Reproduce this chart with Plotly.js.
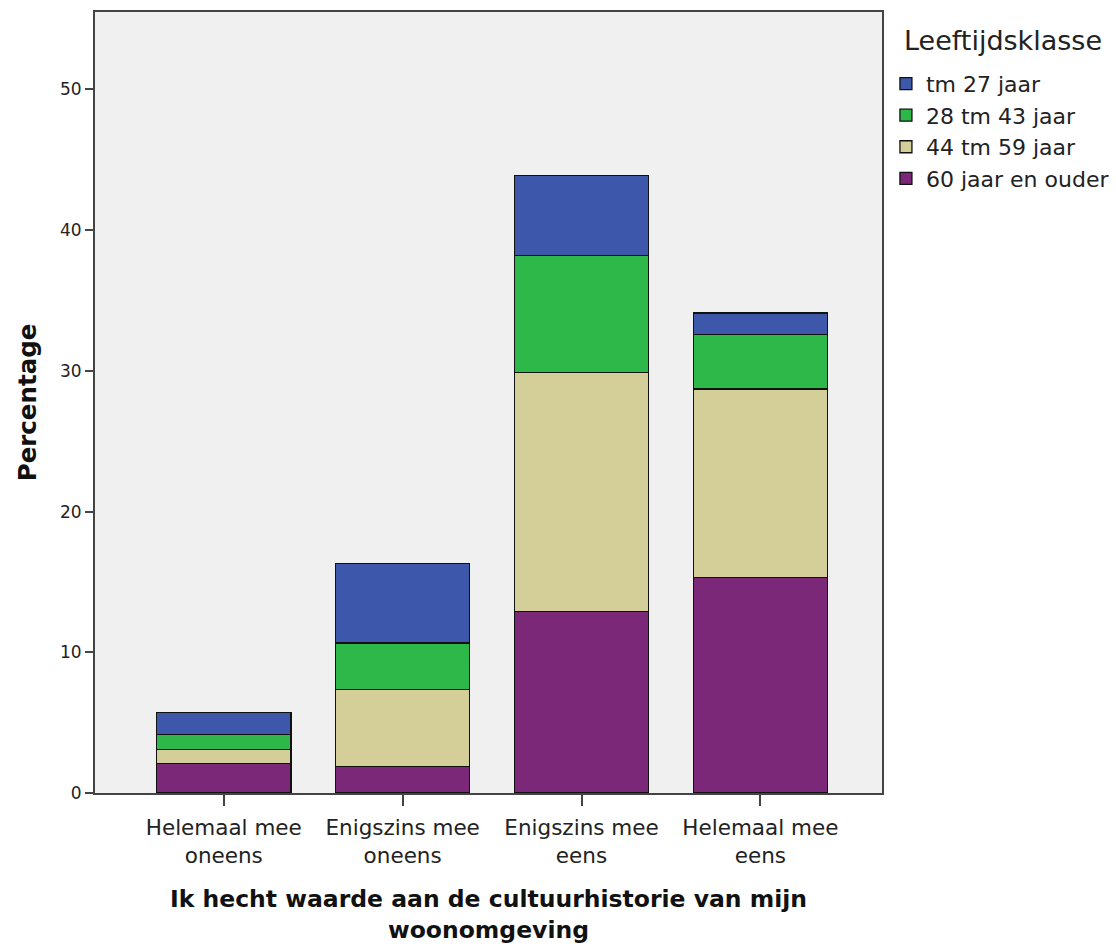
<!DOCTYPE html>
<html>
<head>
<meta charset="utf-8">
<script src="https://cdn.plot.ly/plotly-3.0.1.min.js"></script>
<style>html,body{margin:0;padding:0;background:#fff;}</style>
</head>
<body>
<div id="chart" style="width:1116px;height:947px;"></div>
<script>
const categories = ["Helemaal mee<br>oneens", "Enigszins mee<br>oneens", "Enigszins mee<br>eens", "Helemaal mee<br>eens"];
const seriesNames = ["60 jaar en ouder", "44 tm 59 jaar", "28 tm 43 jaar", "tm 27 jaar"];
const legendTitle = "Leeftijdsklasse";
const v60plus = [2.12, 1.88, 12.9, 15.32];
const v44to59 = [0.97, 5.48, 17.0, 13.38];
const v28to43 = [1.09, 3.31, 8.28, 3.9];
const vTo27 = [1.54, 5.66, 5.72, 1.5];
const colors = ["#7b2878", "#d4ce98", "#2eb84a", "#3d58aa"];
const allValues = [v60plus, v44to59, v28to43, vTo27];

const traces = allValues.map((vals, i) => ({
  type: "bar",
  x: categories,
  y: vals,
  name: seriesNames[i],
  legendgroup: "g" + i,
  width: 0.75,
  marker: {color: colors[i], line: {color: "#111", width: 1.3}},
  hoverinfo: "y+name"
}));

const layout = {
  width: 1116, height: 947,
  barmode: "stack",
  paper_bgcolor: "#ffffff",
  plot_bgcolor: "#f0f0f0",
  margin: {l: 95, r: 234, t: 12, b: 154, autoexpand: false},
  font: {family: "DejaVu Sans, sans-serif", color: "#222", size: 16},
  xaxis: {
    type: "category",
    range: [-0.72, 3.68],
    showline: true, linecolor: "#444", linewidth: 2, mirror: true,
    ticks: "outside", ticklen: 11, tickwidth: 2, tickcolor: "#444",
    ticklabelstandoff: 3,
    showgrid: false,
    tickfont: {size: 21.5, color: "#222"},
    title: {text: "<b>Ik hecht waarde aan de cultuurhistorie van mijn<br>woonomgeving</b>", font: {size: 23.5, color: "#111"}, standoff: 24}
  },
  yaxis: {
    range: [0, 55.5],
    dtick: 10,
    showline: true, linecolor: "#444", linewidth: 2, mirror: true,
    ticks: "outside", ticklen: 8, tickwidth: 2, tickcolor: "#444",
    showgrid: false, zeroline: false,
    tickfont: {size: 17, color: "#222"},
    title: {text: "<b>Percentage</b>", font: {size: 24.5, color: "#111"}, standoff: 16}
  },
  legend: {
    x: 1.005, xanchor: "left", y: 0.935, yanchor: "top",
    traceorder: "reversed",
    bgcolor: "rgba(0,0,0,0)",
    font: {size: 22, color: "#222"},
    itemwidth: 30,
    tracegroupgap: 8
  },
  annotations: [{
    text: legendTitle, xref: "paper", yref: "paper",
    x: 1.026, xanchor: "left", y: 0.941, yanchor: "bottom",
    showarrow: false, font: {size: 27, color: "#222"}
  }],
  showlegend: true
};

Plotly.newPlot("chart", traces, layout, {displayModeBar: false, staticPlot: true});
</script>
</body>
</html>
